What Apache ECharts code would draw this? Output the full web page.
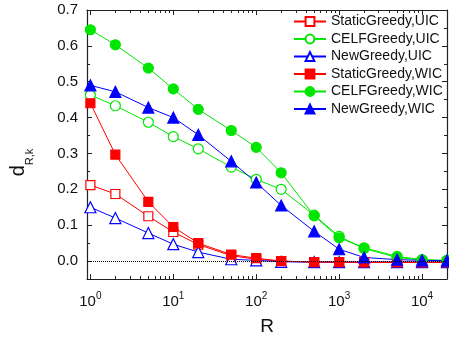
<!DOCTYPE html>
<html>
<head>
<meta charset="utf-8">
<script src="https://cdn.jsdelivr.net/npm/echarts@6/dist/echarts.min.js"></script>
<style>html,body{margin:0;padding:0;background:#fff}#c{width:449px;height:341px}</style>
</head>
<body>
<div id="c"></div>
<script>
var R = [1, 2, 5, 10, 20, 50, 100, 200, 500, 1000, 2000, 5000, 10000, 20000];
var staticUIC = [0.212, 0.187, 0.125, 0.081, 0.046, 0.015, 0.005, 0.0, -0.003, -0.003, -0.003, -0.003, -0.003, -0.003];
var celfUIC   = [0.463, 0.433, 0.387, 0.347, 0.313, 0.262, 0.228, 0.200, 0.128, 0.069, 0.035, 0.010, 0.003, 0.001];
var newUIC    = [0.150, 0.120, 0.078, 0.047, 0.025, 0.005, 0.002, -0.002, -0.003, -0.003, -0.003, -0.003, -0.003, -0.003];
var staticWIC = [0.440, 0.297, 0.165, 0.095, 0.050, 0.018, 0.008, 0.0, -0.003, -0.003, -0.004, -0.004, -0.004, -0.004];
var celfWIC   = [0.645, 0.603, 0.538, 0.480, 0.423, 0.364, 0.317, 0.246, 0.126, 0.065, 0.037, 0.013, 0.004, 0.002];
var newWIC    = [0.490, 0.472, 0.428, 0.400, 0.352, 0.278, 0.219, 0.155, 0.083, 0.033, 0.010, 0.004, 0.002, 0.001];
var xMajor = [1, 10, 100, 1000, 10000];
var xMinor = [2,3,4,5,6,7,8,9,20,30,40,50,60,70,80,90,200,300,400,500,600,700,800,900,2000,3000,4000,5000,6000,7000,8000,9000,20000];
var yMajor = [0, 0.1, 0.2, 0.3, 0.4, 0.5, 0.6, 0.7];
var yMinor = [0.05, 0.15, 0.25, 0.35, 0.45, 0.55, 0.65];

var FONT = 'Liberation Sans, Arial, sans-serif';
var AX = '#222';
var RED = '#ff0000', GREEN = '#00e600', BLUE = '#0000ff';

function pairs(ys) { return R.map(function (r, i) { return [r, ys[i]]; }); }

function xAx(pos, major, showLine, showLabel) {
  return {
    type: 'log', logBase: 10, min: 0.91, max: 20000, position: pos,
    axisLine: { show: showLine, onZero: false, lineStyle: { color: AX, width: 1.2 } },
    axisTick: { show: true, inside: true, length: major ? 5 : 3, customValues: major ? xMajor : xMinor, lineStyle: { color: AX, width: 1 } },
    axisLabel: showLabel ? {
      show: true, customValues: xMajor, margin: 12, fontFamily: FONT,
      formatter: function (v) { return '{b|10}{s|' + Math.round(Math.log10(v)) + '}'; },
      rich: {
        b: { fontSize: 15, color: '#111', fontFamily: FONT, lineHeight: 18, verticalAlign: 'bottom' },
        s: { fontSize: 10, color: '#111', fontFamily: FONT, lineHeight: 18, verticalAlign: 'top', padding: [0, 0, 8, 0] }
      }
    } : { show: false },
    splitLine: { show: false },
    name: showLabel ? 'R' : '', nameLocation: 'middle', nameGap: 38,
    nameTextStyle: { fontSize: 19, color: '#111', fontFamily: FONT }
  };
}
function yAx(pos, major, showLine, showLabel) {
  return {
    type: 'value', min: -0.05, max: 0.7, position: pos,
    axisLine: { show: showLine, onZero: false, lineStyle: { color: AX, width: 1.2 } },
    axisTick: { show: true, inside: true, length: major ? 5 : 3, customValues: major ? yMajor : yMinor, lineStyle: { color: AX, width: 1 } },
    axisLabel: showLabel ? {
      show: true, customValues: yMajor, margin: 9, fontSize: 15, color: '#111', fontFamily: FONT,
      formatter: function (v) { return v.toFixed(1); }
    } : { show: false },
    splitLine: { show: false },
    name: showLabel ? '{d|d}{s|R,k}' : '', nameLocation: 'middle', nameGap: 57, nameRotate: 90,
    nameTextStyle: {
      fontFamily: FONT, color: '#111', padding: [0, 36, 0, 0],
      rich: {
        d: { fontSize: 20, fontFamily: FONT, color: '#111', lineHeight: 22, verticalAlign: 'top' },
        s: { fontSize: 11, fontFamily: FONT, color: '#111', lineHeight: 22, verticalAlign: 'bottom', padding: [0, 0, -5, 0] }
      }
    }
  };
}

function ser(name, ys, color, symbol, size, empty) {
  return {
    name: name, type: 'line', data: pairs(ys), xAxisIndex: 0, yAxisIndex: 0,
    symbol: symbol, symbolSize: size, showAllSymbol: true,
    lineStyle: { color: color, width: 1 },
    itemStyle: { color: empty ? '#fff' : color, borderColor: color, borderWidth: 1.2 },
    emphasis: { disabled: true },
    animation: false
  };
}

var series = [
  ser('StaticGreedy,UIC', staticUIC, RED, 'rect', 9, true),
  ser('CELFGreedy,UIC', celfUIC, GREEN, 'circle', 10, true),
  ser('NewGreedy,UIC', newUIC, BLUE, 'triangle', 11, true),
  ser('StaticGreedy,WIC', staticWIC, RED, 'rect', 9, false),
  ser('CELFGreedy,WIC', celfWIC, GREEN, 'circle', 10, false),
  ser('NewGreedy,WIC', newWIC, BLUE, 'triangle', 11, false)
];
series[0].markLine = {
  silent: true, symbol: ['none', 'none'], label: { show: false }, animation: false,
  lineStyle: { type: 'dotted', color: '#000', width: 1 },
  data: [{ yAxis: 0 }]
};

var chart = echarts.init(document.getElementById('c'), null, { renderer: 'canvas' });
chart.setOption({
  backgroundColor: '#fff',
  animation: false,
  grid: { left: 80, right: 2, top: 10, bottom: 56, containLabel: false },
  legend: {
    orient: 'vertical', left: 293, top: 14, padding: 0, itemGap: 2.5,
    itemWidth: 32, itemHeight: 11,
    textStyle: { fontSize: 14, lineHeight: 15, color: '#111', fontFamily: FONT },
    data: series.map(function (s) { return s.name; })
  },
  xAxis: [xAx('bottom', true, true, true), xAx('bottom', false, false, false), xAx('top', true, true, false), xAx('top', false, false, false)],
  yAxis: [yAx('left', true, true, true), yAx('left', false, false, false), yAx('right', true, true, false), yAx('right', false, false, false)],
  series: series
});
</script>
</body>
</html>
